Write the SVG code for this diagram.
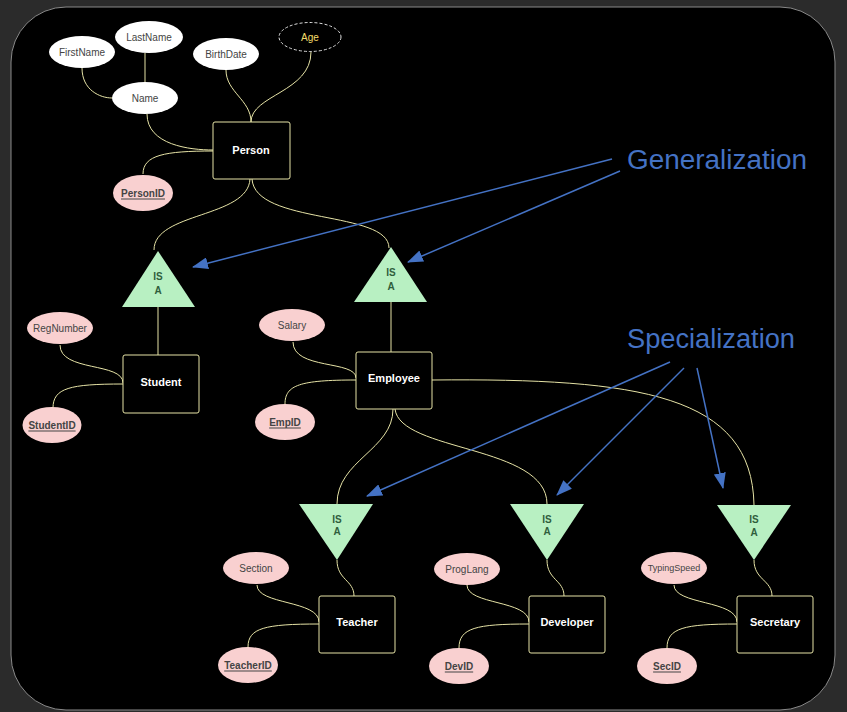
<svg xmlns="http://www.w3.org/2000/svg" width="847" height="712" viewBox="0 0 847 712">
<defs>
<style>
.attr{fill:#ffffff;stroke:none}
.pink{fill:#f9d0d0;stroke:none}
.ent{fill:#000;stroke:#e6e3a6;stroke-width:1}
.isa{fill:#b8f0c2;stroke:none}
.con{fill:none;stroke:#e6e3a6;stroke-width:1}
.arr{fill:none;stroke:#4472C4;stroke-width:1.5}
.t{font-family:"Liberation Sans",Arial,sans-serif;font-size:10px;fill:#444;text-anchor:middle;dominant-baseline:central}
.k{font-weight:bold;text-decoration:underline}
.e{font-family:"Liberation Sans",Arial,sans-serif;font-size:11px;font-weight:bold;fill:#fff;text-anchor:middle;dominant-baseline:central}
.i{font-family:"Liberation Sans",Arial,sans-serif;font-size:10px;font-weight:bold;fill:#2f5e3c;text-anchor:middle;dominant-baseline:central}
.lbl{font-family:"Liberation Sans",Arial,sans-serif;font-size:27px;fill:#4472C4}
</style>
<marker id="ah" markerWidth="16" markerHeight="12" refX="15" refY="6" orient="auto" markerUnits="userSpaceOnUse"><path d="M0,0 L16,6 L0,12 z" fill="#4472C4"/></marker>
</defs>
<rect x="0" y="0" width="847" height="712" fill="#2b2b2b"/>
<rect x="11" y="7" width="824" height="703" rx="55" ry="55" fill="#000" stroke="#8a8a8a" stroke-width="1"/>

<g id="connectors">
<path class="con" d="M82,68 C82,90 100,98 112,98"/>
<path class="con" d="M145,53 L145,83"/>
<path class="con" d="M147,114 C147,145 190,150 213,150"/>
<path class="con" d="M143,174 C143,155 165,151 213,151"/>
<path class="con" d="M226,70 C226,92 251,100 251,122"/>
<path class="con" d="M311,52 C311,92 251,95 251,122"/>
<path class="con" d="M250,179 C248,218 154,212 154,250"/>
<path class="con" d="M252,179 C255,225 389,210 389,248"/>
<path class="con" d="M158,307 L158,355"/>
<path class="con" d="M60,345 C60,372 123,362 123,383"/>
<path class="con" d="M53,408 C53,388 70,384 123,384"/>
<path class="con" d="M391,302 L391,352"/>
<path class="con" d="M293,342 C293,370 356,360 356,378"/>
<path class="con" d="M285,404 C285,385 300,380 356,380"/>
<path class="con" d="M432,380 C640,378 752,395 754,505"/>
<path class="con" d="M393,409 C393,450 337,460 337,504"/>
<path class="con" d="M395,409 C400,452 547,445 547,504"/>
<path class="con" d="M337,560 C337,580 354,580 354,596"/>
<path class="con" d="M547,560 C547,580 564,580 564,596"/>
<path class="con" d="M754,560 C754,580 772,580 772,596"/>
<path class="con" d="M257,585 C257,605 319,600 319,622"/>
<path class="con" d="M248,647 C248,628 265,624 319,624"/>
<path class="con" d="M467,585 C467,605 529,600 529,622"/>
<path class="con" d="M459,648 C459,628 476,624 529,624"/>
<path class="con" d="M674,585 C674,605 737,600 737,622"/>
<path class="con" d="M667,648 C667,628 684,624 737,624"/>
<path class="arr" d="M612,159 L193,267" marker-end="url(#ah)"/>
<path class="arr" d="M620,171 L408,262" marker-end="url(#ah)"/>
<path class="arr" d="M670,362 L367,496" marker-end="url(#ah)"/>
<path class="arr" d="M684,368 L557,495" marker-end="url(#ah)"/>
<path class="arr" d="M697,368 L723,488" marker-end="url(#ah)"/>
</g>

<g id="FirstName"><ellipse class="attr" cx="82" cy="52" rx="33" ry="16"/><text class="t" x="82" y="52">FirstName</text></g>
<g id="LastName"><ellipse class="attr" cx="149" cy="37" rx="34" ry="16"/><text class="t" x="149" y="37">LastName</text></g>
<g id="Name"><ellipse class="attr" cx="145" cy="98" rx="33" ry="16"/><text class="t" x="145" y="98">Name</text></g>
<g id="BirthDate"><ellipse class="attr" cx="226" cy="54" rx="33" ry="16"/><text class="t" x="226" y="54">BirthDate</text></g>
<g id="Age"><ellipse cx="310" cy="37" rx="31" ry="14.5" fill="#000" stroke="#dddddd" stroke-width="1" stroke-dasharray="3,2"/><text class="t" x="310" y="37" style="fill:#f2dc6a">Age</text></g>
<g id="Person"><rect class="ent" x="213" y="122" width="77" height="57" rx="2"/><text class="e" x="251" y="150">Person</text></g>
<g id="PersonID"><ellipse class="pink" cx="143" cy="193" rx="30" ry="18"/><text class="t k" x="143" y="193">PersonID</text></g>

<g id="ISA1"><polygon class="isa" points="158,251 122,307 195,307"/><text class="i" x="158" y="276">IS</text><text class="i" x="158" y="290">A</text></g>
<g id="ISA2"><polygon class="isa" points="391,247 354,302 427,302"/><text class="i" x="391" y="272">IS</text><text class="i" x="391" y="286">A</text></g>

<g id="Student"><rect class="ent" x="123" y="355" width="76" height="58" rx="2"/><text class="e" x="161" y="382">Student</text></g>
<g id="RegNumber"><ellipse class="pink" cx="60" cy="328" rx="33" ry="16"/><text class="t" x="60" y="328">RegNumber</text></g>
<g id="StudentID"><ellipse class="pink" cx="52" cy="425" rx="29.5" ry="18"/><text class="t k" x="52" y="425">StudentID</text></g>

<g id="Employee"><rect class="ent" x="356" y="352" width="76" height="57" rx="2"/><text class="e" x="394" y="378">Employee</text></g>
<g id="Salary"><ellipse class="pink" cx="292" cy="325" rx="33" ry="16"/><text class="t" x="292" y="325">Salary</text></g>
<g id="EmpID"><ellipse class="pink" cx="285" cy="422" rx="30" ry="18"/><text class="t k" x="285" y="422">EmpID</text></g>

<g id="ISA3"><polygon class="isa" points="299,504 373,504 337,560"/><text class="i" x="337" y="519">IS</text><text class="i" x="337" y="531">A</text></g>
<g id="ISA4"><polygon class="isa" points="510,504 584,504 547,560"/><text class="i" x="547" y="519">IS</text><text class="i" x="547" y="531">A</text></g>
<g id="ISA5"><polygon class="isa" points="717,505 791,505 754,560"/><text class="i" x="754" y="519">IS</text><text class="i" x="754" y="532">A</text></g>

<g id="Teacher"><rect class="ent" x="319" y="596" width="76" height="57" rx="2"/><text class="e" x="357" y="622">Teacher</text></g>
<g id="Section"><ellipse class="pink" cx="256" cy="568" rx="33" ry="16"/><text class="t" x="256" y="568">Section</text></g>
<g id="TeacherID"><ellipse class="pink" cx="248" cy="665" rx="30" ry="18"/><text class="t k" x="248" y="665">TeacherID</text></g>

<g id="Developer"><rect class="ent" x="529" y="596" width="76" height="57" rx="2"/><text class="e" x="567" y="622">Developer</text></g>
<g id="ProgLang"><ellipse class="pink" cx="467" cy="569" rx="33" ry="16"/><text class="t" x="467" y="569">ProgLang</text></g>
<g id="DevID"><ellipse class="pink" cx="459" cy="666" rx="30" ry="18"/><text class="t k" x="459" y="666">DevID</text></g>

<g id="Secretary"><rect class="ent" x="737" y="596" width="76" height="57" rx="2"/><text class="e" x="775" y="622">Secretary</text></g>
<g id="TypingSpeed"><ellipse class="pink" cx="674" cy="568" rx="33" ry="16"/><text class="t" x="674" y="568" style="font-size:9px">TypingSpeed</text></g>
<g id="SecID"><ellipse class="pink" cx="667" cy="666" rx="30" ry="18"/><text class="t k" x="667" y="666">SecID</text></g>

<g id="labels">
<text class="lbl" x="627" y="169" textLength="180" lengthAdjust="spacingAndGlyphs">Generalization</text>
<text class="lbl" x="627" y="348" textLength="168" lengthAdjust="spacingAndGlyphs">Specialization</text>
</g>
</svg>
